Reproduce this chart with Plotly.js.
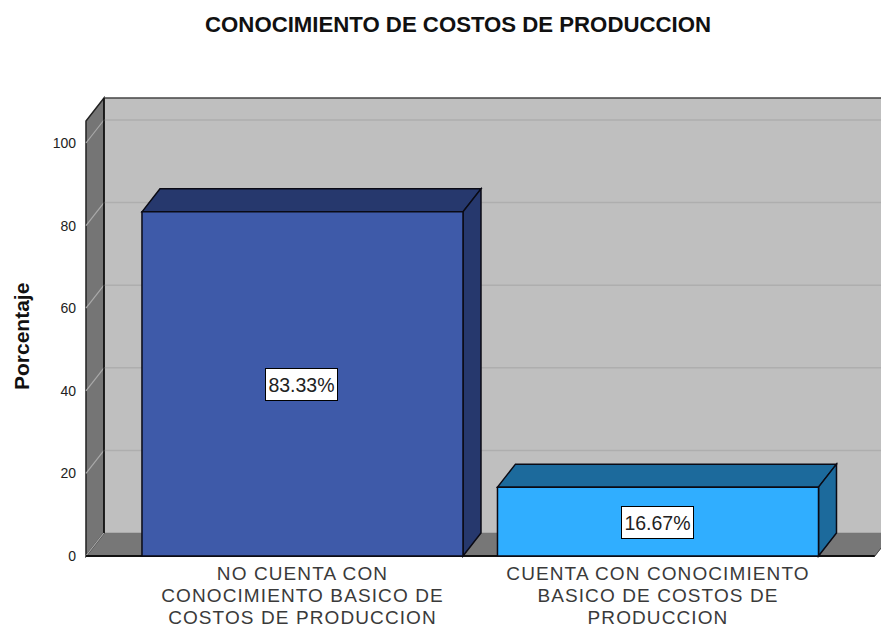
<!DOCTYPE html>
<html>
<head>
<meta charset="utf-8">
<script src="https://cdn.plot.ly/plotly-3.0.1.min.js"></script>
<style>html,body{margin:0;padding:0;background:#fff;overflow:hidden}#chart{width:881px;height:630px}</style>
</head>
<body>
<div id="chart"></div>
<script>
const categories = [
  "NO CUENTA CON<br>CONOCIMIENTO BASICO DE<br>COSTOS DE PRODUCCION",
  "CUENTA CON CONOCIMIENTO<br>BASICO DE COSTOS DE<br>PRODUCCION"
];
const categoryPositions = [0, 1];
const values = [83.33, 16.67];
const valueLabels = ["83.33%", "16.67%"];
const frontColors = ["#3E5AA9", "#30AEFF"];
const depthColors = ["#26386D", "#1C6A9C"];
const yTicks = [0, 20, 40, 60, 80, 100];

// pseudo-3D depth of the chart, in axis units
const depthX = 0.0506, depthY = 5.57;
const barWidth = 0.903;
const xRange = [-0.6146, 1.6273], yRange = [-0.97, 111.38];
const wallTop = 105.33;
const xLeft = -0.609, xRight = 1.61;

const path = pts => "M" + pts.map(p => p[0] + "," + p[1]).join("L") + "Z";
const poly = (pts, fill, color, width) => ({
  type: "path", xref: "x", yref: "y", layer: "below", path: path(pts),
  fillcolor: fill, line: {color: color, width: width}
});
const seg = (a, b, color, width) => ({
  type: "line", xref: "x", yref: "y", layer: "below",
  x0: a[0], y0: a[1], x1: b[0], y1: b[1], line: {color: color, width: width}
});

const backL = xLeft + depthX;
const shapes = [
  poly([[backL, depthY], [xRight + 1, depthY], [xRight + 1, wallTop + depthY], [backL, wallTop + depthY]], "#BFBFBF", "rgba(0,0,0,0)", 0),
  poly([[xLeft, 0], [backL, depthY], [xRight + depthX, depthY], [xRight, 0]], "#777777", "#777777", 0.5),
  poly([[xLeft, 0], [xLeft, wallTop], [backL, wallTop + depthY], [backL, depthY]], "#757575", "#222222", 1.5)
];
yTicks.forEach(t => {
  if (t > 0) shapes.push(seg([backL, t + depthY], [xRight + 1, t + depthY], "#AEAEAE", 1.5));
  shapes.push(seg([xLeft, t], [backL, t + depthY], "#A9A9A9", 1.2));
});
shapes.push(seg([backL, wallTop + depthY], [xRight + 1, wallTop + depthY], "#444444", 1.5));
shapes.push(seg([backL, depthY], [backL, wallTop + depthY], "#111111", 1.5));
shapes.push(seg([xLeft, 0], [xRight, 0], "#111111", 2));
shapes.push(seg([xRight, 0], [xRight + depthX, depthY], "#444444", 1));

categoryPositions.forEach((c, i) => {
  const l = c - barWidth / 2, r = c + barWidth / 2, v = values[i];
  shapes.push(poly([[l, v], [l + depthX, v + depthY], [r + depthX, v + depthY], [r, v]], depthColors[i], "#0A0A14", 1.5));
  shapes.push(poly([[r, 0], [r + depthX, depthY], [r + depthX, v + depthY], [r, v]], depthColors[i], "#0A0A14", 1.5));
});

const annotations = categoryPositions.map((c, i) => ({
  x: c, y: values[i] / 2, xref: "x", yref: "y", text: valueLabels[i], showarrow: false,
  width: 71, height: 31, xshift: -0.5, yshift: -0.5,
  bgcolor: "#FFFFFF", bordercolor: "#000000", borderwidth: 1, borderpad: 0,
  font: {family: "Liberation Sans, Arial, sans-serif", size: 19.5, color: "#222222"}
}));
annotations.push({
  xref: "paper", yref: "paper", x: (21 - 84) / 797, y: (630 - 70 - 337) / 464,
  text: "<b>Porcentaje</b>", textangle: -90, showarrow: false,
  xanchor: "center", yanchor: "middle",
  font: {family: "Liberation Sans, Arial, sans-serif", size: 21, color: "#111111"}
});

const trace = {
  type: "bar", x: categoryPositions, y: values, width: barWidth,
  marker: {color: frontColors, line: {color: "#0A0A14", width: 1.5}},
  cliponaxis: false, hoverinfo: "skip", showlegend: false
};

const layout = {
  width: 881, height: 630, autosize: false,
  margin: {l: 84, r: 0, t: 96, b: 70, pad: 0},
  paper_bgcolor: "#FFFFFF", plot_bgcolor: "rgba(0,0,0,0)",
  showlegend: false,
  title: {
    text: "CONOCIMIENTO DE COSTOS DE PRODUCCION",
    x: 458 / 881, xref: "container", xanchor: "center", y: 1 - 24 / 630, yref: "container", yanchor: "middle",
    font: {family: "Liberation Sans, Arial, sans-serif", size: 22.2, color: "#111111", weight: 700}
  },
  xaxis: {
    type: "linear", range: xRange, tickmode: "array", tickvals: categoryPositions,
    ticktext: categories.map(s => s.split("<br>").map(t => '<span style="font-size:19px;letter-spacing:1.1px">' + t + "</span>").join("<br>")),
    tickfont: {family: "Liberation Sans, Arial, sans-serif", size: 17, color: "#3A3A3A"},
    showgrid: false, zeroline: false, showline: false, ticks: "", ticklabelstandoff: 2
  },
  yaxis: {
    range: yRange, tickmode: "array", tickvals: yTicks,
    tickfont: {family: "Liberation Sans, Arial, sans-serif", size: 14, color: "#222222"},
    showgrid: false, zeroline: false, showline: false, ticks: "", ticklabelstandoff: 7
  },
  bargap: 0,
  shapes: shapes,
  annotations: annotations
};

Plotly.newPlot("chart", [trace], layout, {displayModeBar: false, responsive: false, staticPlot: true});
</script>
</body>
</html>
